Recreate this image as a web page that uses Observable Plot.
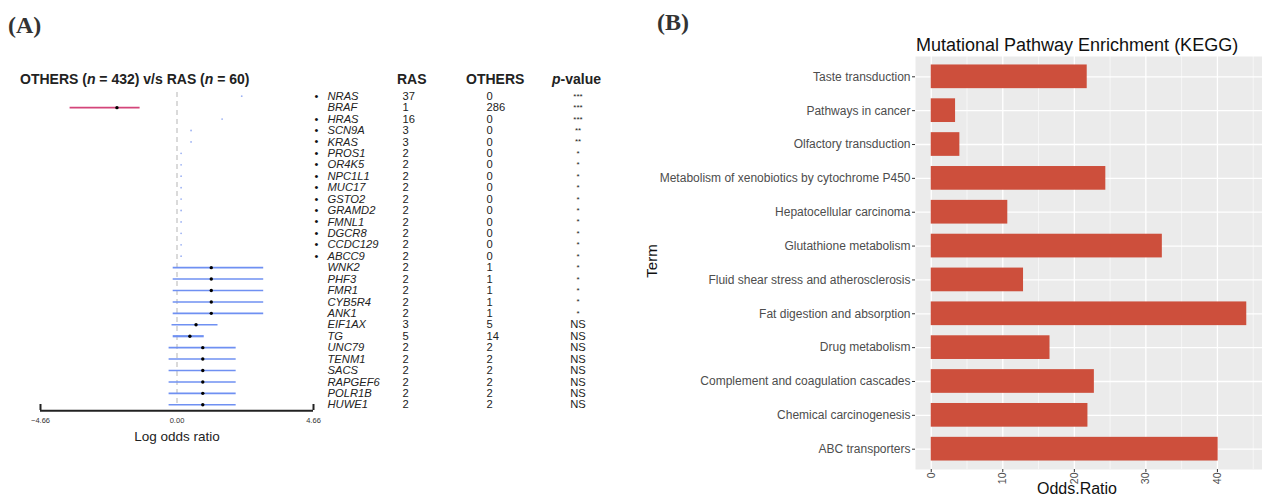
<!DOCTYPE html>
<html>
<head>
<meta charset="utf-8">
<script src="https://cdn.jsdelivr.net/npm/d3@7"></script>
<script src="https://cdn.jsdelivr.net/npm/@observablehq/plot@0.6"></script>
<style>
  html, body { margin: 0; padding: 0; background: #fff; }
  #wrap { position: relative; width: 1262px; height: 498px; overflow: hidden; font-family: "Liberation Sans", Arial, sans-serif; color: #111; }
  .abs { position: absolute; white-space: nowrap; }
  .panel { font-family: "Liberation Serif", "DejaVu Serif", serif; font-weight: bold; font-size: 24px; color: #333; line-height: 28px; }
  .hdr { font-weight: bold; font-size: 14px; line-height: 16px; color: #222; }
  svg { position: absolute; overflow: visible; }
</style>
</head>
<body>
<div id="wrap">
  <div class="abs panel" style="left:8px; top:11px;">(A)</div>
  <div class="abs panel" style="left:657px; top:8px;">(B)</div>
  <div class="abs hdr" style="left:20px; top:71px;">OTHERS (<i>n</i> = 432) v/s RAS (<i>n</i> = 60)</div>
  <div class="abs hdr" style="left:397px; top:71px;">RAS</div>
  <div class="abs hdr" style="left:466px; top:71px;">OTHERS</div>
  <div class="abs hdr" style="left:552px; top:71px;"><i>p</i>-value</div>
  <div class="abs" style="left:77px; width:200px; text-align:center; top:429px; font-size:13.5px; line-height:16px; color:#222;">Log odds ratio</div>
  <div class="abs" style="left:916px; top:35px; font-size:18px; line-height:20px; color:#111;">Mutational Pathway Enrichment (KEGG)</div>
  <div class="abs" style="left:617px; top:252px; width:70px; text-align:center; font-size:15px; line-height:18px; color:#111; transform: rotate(-90deg);">Term</div>
  <div class="abs" style="left:977px; top:480px; width:200px; text-align:center; font-size:16px; line-height:17px; color:#111;">Odds.Ratio</div>
  <div id="forest"></div>
  <div id="table"></div>
  <div id="kegg"></div>
</div>
<script>
// ---------- Panel A data ----------
const genes = ["NRAS","BRAF","HRAS","SCN9A","KRAS","PROS1","OR4K5","NPC1L1","MUC17","GSTO2","GRAMD2","FMNL1","DGCR8","CCDC129","ABCC9","WNK2","PHF3","FMR1","CYB5R4","ANK1","EIF1AX","TG","UNC79","TENM1","SACS","RAPGEF6","POLR1B","HUWE1"];
const rasCounts = [37,1,16,3,3,2,2,2,2,2,2,2,2,2,2,2,2,2,2,2,3,5,2,2,2,2,2,2];
const othersCounts = [0,286,0,0,0,0,0,0,0,0,0,0,0,0,0,1,1,1,1,1,5,14,2,2,2,2,2,2];
const pLabels = ["***","***","***","**","**","*","*","*","*","*","*","*","*","*","*","*","*","*","*","*","NS","NS","NS","NS","NS","NS","NS","NS"];
const logOR = [2.21,-2.05,1.54,0.48,0.48,0.14,0.14,0.14,0.14,0.14,0.14,0.14,0.14,0.14,0.14,1.17,1.17,1.17,1.17,1.17,0.65,0.44,0.88,0.88,0.88,0.88,0.88,0.88];
const ciLow = [null,-3.65,null,null,null,null,null,null,null,null,null,null,null,null,null,-0.13,-0.13,-0.13,-0.13,-0.13,-0.17,-0.13,-0.27,-0.27,-0.27,-0.27,-0.27,-0.27];
const ciHigh = [null,-1.26,null,null,null,null,null,null,null,null,null,null,null,null,null,2.96,2.96,2.96,2.96,2.96,1.40,0.93,2.02,2.02,2.02,2.02,2.02,2.02];
const axisTicks = [-4.66, 0, 4.66];
const axisEnds = [-4.66, 4.66];

// ---------- Panel B data ----------
const terms = ["Taste transduction","Pathways in cancer","Olfactory transduction","Metabolism of xenobiotics by cytochrome P450","Hepatocellular carcinoma","Glutathione metabolism","Fluid shear stress and atherosclerosis","Fat digestion and absorption","Drug metabolism","Complement and coagulation cascades","Chemical carcinogenesis","ABC transporters"];
const oddsRatio = [21.8, 3.4, 4.0, 24.4, 10.7, 32.3, 12.9, 44.1, 16.6, 22.8, 21.9, 40.1];
const majorTicks = [0, 10, 20, 30, 40];
const minorTicks = [5, 15, 25, 35, 45];

const rows = genes.map((g, i) => ({gene: g, ras: rasCounts[i], others: othersCounts[i], p: pLabels[i], est: logOR[i], lo: ciLow[i], hi: ciHigh[i]}));
const withCI = rows.filter(d => d.lo != null);
const noCI = rows.filter(d => d.lo == null);
const lastGene = genes[genes.length - 1];

const yScale = {type: "point", domain: genes, padding: 0.5, round: false, axis: null};
const font = "Liberation Sans, Arial, sans-serif";
const H = 450, MT = 90, MB = 40;

const forest = Plot.plot({
  width: 330, height: H,
  marginTop: MT, marginBottom: MB, marginLeft: 40, marginRight: 17,
  style: {fontFamily: font, background: "transparent"},
  x: {domain: [-4.66, 4.66], axis: null},
  y: yScale,
  marks: [
    Plot.ruleX([0], {stroke: "#b5b5b5", strokeWidth: 1, strokeDasharray: "5,4", insetTop: 2, insetBottom: 5}),
    Plot.ruleY(withCI, {y: "gene", x1: "lo", x2: "hi", stroke: d => d.est < 0 ? "#d4457a" : "#6f90f2", strokeWidth: d => d.gene === "TG" ? 2.2 : 1.6}),
    Plot.dot(noCI, {y: "gene", x: "est", r: 0.9, fill: "#9db2f3"}),
    Plot.dot(withCI, {y: "gene", x: "est", r: 1.7, fill: "#000"}),
    Plot.ruleY([lastGene], {y: d => d, x1: -4.66, x2: 4.66, dy: 6, stroke: "#222", strokeWidth: 2}),
    Plot.ruleX(axisEnds, {x: d => d, insetTop: H - MT - MB - 6, stroke: "#222", strokeWidth: 2}),
    Plot.text(axisTicks, {x: d => d, y: () => lastGene, text: d => d3.format(".2f")(d), dy: 16, fontSize: 7.5, fill: "#333"})
  ]
});
forest.style.left = "0px"; forest.style.top = "0px";
document.getElementById("forest").appendChild(forest);

const table = Plot.plot({
  width: 340, height: H,
  marginTop: MT, marginBottom: MB, marginLeft: 0, marginRight: 0,
  style: {fontFamily: font, background: "transparent"},
  x: {axis: null},
  y: yScale,
  marks: [
    Plot.text(rows.filter(d => d.others === 0), {y: "gene", text: () => "•", frameAnchor: "left", dx: 14, fontSize: 11, fill: "#111"}),
    Plot.text(rows, {y: "gene", text: "gene", frameAnchor: "left", dx: 27, textAnchor: "start", fontStyle: "italic", fontSize: 11.2, fill: "#222"}),
    Plot.text(rows, {y: "gene", text: d => String(d.ras), frameAnchor: "left", dx: 102, textAnchor: "start", fontSize: 11.2, fill: "#222"}),
    Plot.text(rows, {y: "gene", text: d => String(d.others), frameAnchor: "left", dx: 186, textAnchor: "start", fontSize: 11.2, fill: "#222"}),
    Plot.text(rows, {y: "gene", text: "p", frameAnchor: "left", dx: 277.5, textAnchor: "middle", fontSize: d => d.p === "NS" ? 11.2 : 8, fill: "#222"})
  ]
});
table.style.left = "300px"; table.style.top = "0px";
document.getElementById("table").appendChild(table);

const pathways = terms.map((t, i) => ({term: t, odds: oddsRatio[i]}));

const kegg = Plot.plot({
  width: 622, height: 498,
  marginTop: 56, marginBottom: 29, marginLeft: 275, marginRight: 0,
  style: {fontFamily: font, background: "transparent"},
  x: {domain: [-2.2, 46.3]},
  y: {type: "band", domain: terms, paddingInner: 0.3, paddingOuter: 0.25, round: false},
  marks: [
    Plot.frame({fill: "#ebebeb", stroke: null}),
    Plot.ruleX(minorTicks, {stroke: "#fff", strokeWidth: 0.6}),
    Plot.ruleX(majorTicks, {stroke: "#fff", strokeWidth: 1.3}),
    Plot.gridY({stroke: "#fff", strokeOpacity: 1, strokeWidth: 1.3}),
    Plot.barX(pathways, {y: "term", x: "odds", fill: "#cd4f3c"}),
    Plot.axisY({tickSize: 3, tickPadding: 2, fontSize: 12, stroke: "#333", fill: "#4d4d4d", label: null}),
    Plot.axisX({ticks: majorTicks, tickSize: 3, tickPadding: 0, tickRotate: -90, fontSize: 10.5, stroke: "#333", fill: "#4d4d4d", label: null})
  ]
});
kegg.style.left = "640px"; kegg.style.top = "0px";
document.getElementById("kegg").appendChild(kegg);
</script>
</body>
</html>
